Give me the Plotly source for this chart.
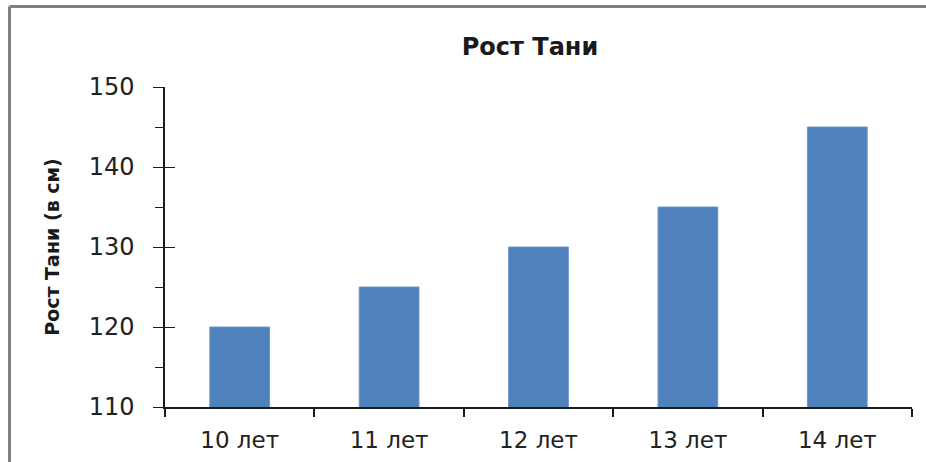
import plotly.graph_objects as go

categories = ["10 лет", "11 лет", "12 лет", "13 лет", "14 лет"]
heights = [120, 125, 130, 135, 145]
y_ticks = [110, 120, 130, 140, 150]

W, H = 926, 462
ML, MR, MT, MB = 165, 14, 87, 55

fig = go.Figure()
fig.add_trace(go.Bar(
    x=categories, y=heights,
    marker=dict(color="#4F81BD", line=dict(color="#6E95C8", width=1)),
    width=0.4,
))
# invisible trace for overlay axis (crossing ticks)
fig.add_trace(go.Scatter(x=categories, y=heights, yaxis="y2", mode="none",
                         showlegend=False, hoverinfo="skip"))

font_family = "DejaVu Sans, Verdana, sans-serif"
fig.update_layout(
    width=W, height=H,
    margin=dict(l=ML, r=MR, t=MT, b=MB, autoexpand=False),
    paper_bgcolor="white", plot_bgcolor="white",
    showlegend=False,
    title=dict(text="<b>Рост Тани</b>", x=(530 / W), xanchor="center",
               y=1 - 47 / H, yanchor="middle",
               font=dict(family=font_family, size=24, color="#1a1a1a")),
    xaxis=dict(
        type="category", showline=True, linecolor="#1a1a1a", linewidth=1.5,
        ticks="outside", tickson="boundaries", ticklen=8, tickcolor="#1a1a1a", tickwidth=1.5,
        showgrid=False, tickfont=dict(family=font_family, size=23, color="#222"),
        ticklabelstandoff=12, automargin=False,
    ),
    yaxis=dict(
        range=[110, 150], tickvals=y_ticks, showline=True, linecolor="#1a1a1a", linewidth=1.5,
        ticks="outside", ticklen=10, tickcolor="#1a1a1a", tickwidth=1,
        minor=dict(dtick=5, ticks="outside", ticklen=8, tickcolor="#1a1a1a", tickwidth=1),
        showgrid=False, zeroline=False, automargin=False,
        tickfont=dict(family=font_family, size=24, color="#222"),
        ticklabelstandoff=14,
        title=dict(text="<b>Рост Тани (в см)</b>", standoff=24,
                   font=dict(family=font_family, size=19, color="#1a1a1a")),
    ),
    yaxis2=dict(
        range=[110, 150], tickvals=y_ticks, overlaying="y", side="left",
        ticks="inside", ticklen=10, tickcolor="#1a1a1a", tickwidth=1,
        showticklabels=False, showgrid=False, zeroline=False, showline=False,
        automargin=False,
    ),
)

# outer chart frame: only the top and left edges are visible in the crop
pw = W - ML - MR
ph = H - MT - MB
fx0 = (9.5 - ML) / pw
fx1 = (W - ML) / pw
fy_top = 1 + (MT - 6.5) / ph
fy_bot = -MB / ph
frame = dict(color="#808080", width=3)
fig.add_shape(type="line", xref="paper", yref="paper",
              x0=fx0, x1=fx1, y0=fy_top, y1=fy_top, line=frame, layer="below")
fig.add_shape(type="line", xref="paper", yref="paper",
              x0=fx0, x1=fx0, y0=fy_top, y1=fy_bot, line=frame, layer="below")

fig.write_html(
    "out.html",
    config={"displayModeBar": False},
    post_script=(
        "var gd=document.getElementById('{plot_id}');"
        "gd.style.position='fixed';gd.style.top='0';gd.style.left='0';"
        "document.documentElement.style.overflow='hidden';"
        "document.body.style.margin='0';"
        "document.body.style.overflow='hidden';"
    ),
)
